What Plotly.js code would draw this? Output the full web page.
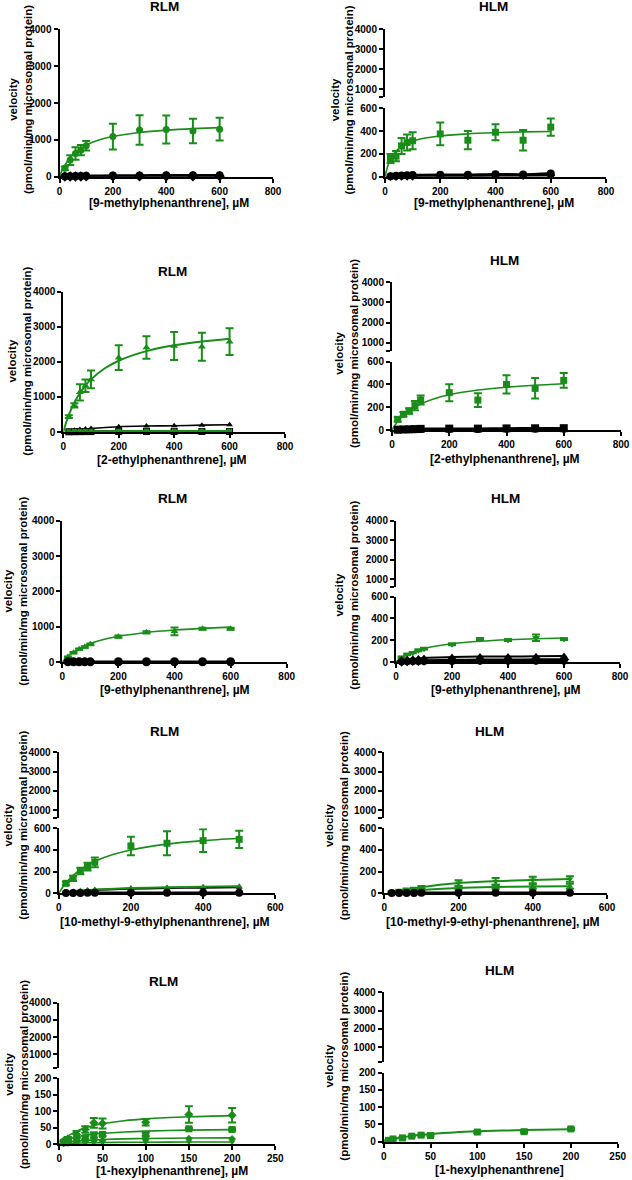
<!DOCTYPE html>
<html><head><meta charset="utf-8">
<script src="https://cdn.plot.ly/plotly-3.0.1.min.js"></script>
<style>html,body{margin:0;padding:0;background:#fff}#chart{width:632px;height:1180px}</style>
</head><body><div id="chart"></div>
<script>
// ---------- concentrations (x values) ----------
const concA = [20, 40, 60, 80, 100, 200, 300, 400, 500, 600];
const concB = [20, 40, 60, 80, 100, 200, 300, 400, 500];
const concC = [5, 10, 20, 30, 40, 50, 100, 150, 200];
const fitXA = [0, 10, 20, 40, 60, 80, 100, 150, 200, 300, 400, 500, 600];
const fitXB = [0, 10, 20, 40, 60, 80, 100, 150, 200, 300, 400, 500];
const fitXC = [0, 5, 10, 20, 30, 40, 50, 75, 100, 150, 200];

// ---------- tick labels ----------
const ticks800 = [0, 200, 400, 600, 800];
const ticks600 = [0, 200, 400, 600];
const ticks250 = [0, 50, 100, 150, 200, 250];
const ticksFull = [0, 1000, 2000, 3000, 4000];
const ticksLow600 = [0, 200, 400, 600];
const ticksLow200 = [0, 50, 100, 150, 200];

// ---------- text ----------
const panelTitles = ['RLM', 'HLM', 'RLM', 'HLM', 'RLM', 'HLM', 'RLM', 'HLM', 'RLM', 'HLM'];
const xTitles = ['[9-methylphenanthrene], µM', '[9-methylphenanthrene], µM',
  '[2-ethylphenanthrene], µM', '[2-ethylphenanthrene], µM',
  '[9-ethylphenanthrene], µM', '[9-ethylphenanthrene], µM',
  '[10-methyl-9-ethylphenanthrene], µM', '[10-methyl-9-ethyl-phenanthrene], µM',
  '[1-hexylphenanthrene], µM', '[1-hexylphenanthrene]'];
const yTitle = 'velocity<br>(pmol/min/mg microsomal protein)';

// ---------- Panel 1: RLM 9-methylphenanthrene ----------
const p1Green = [230, 450, 630, 720, 840, 1090, 1270, 1280, 1240, 1290];
const p1GreenErr = [50, 130, 170, 140, 130, 350, 400, 380, 330, 310];
const p1GreenFit = [0, 176, 316, 522, 667, 774, 857, 1000, 1091, 1200, 1263, 1304, 1333];
const p1BlackA = [10, 15, 20, 22, 25, 30, 35, 40, 40, 42];
const p1BlackB = [3, 5, 6, 7, 8, 10, 12, 12, 14, 15];

// ---------- Panel 2: HLM 9-methylphenanthrene ----------
const p2Green = [160, 180, 270, 300, 315, 375, 320, 390, 320, 435];
const p2GreenErr = [40, 45, 70, 70, 75, 100, 80, 70, 90, 75];
const p2GreenFit = [0, 93, 153, 224, 265, 292, 311, 341, 357, 376, 386, 393, 397];
const p2BlackA = [5, 8, 10, 12, 15, 18, 18, 22, 20, 28];
const p2BlackB = [2, 3, 4, 5, 5, 8, 8, 10, 10, 12];

// ---------- Panel 3: RLM 2-ethylphenanthrene ----------
const p3Green = [437, 760, 1130, 1320, 1500, 2120, 2410, 2450, 2430, 2575];
const p3GreenErr = [40, 60, 230, 180, 250, 350, 320, 400, 400, 380];
const p3GreenFit = [0, 263, 485, 840, 1112, 1326, 1500, 1817, 2032, 2305, 2471, 2582, 2662];
const p3BlackTri = [30, 50, 70, 85, 100, 150, 170, 180, 195, 205];
const p3GreenLow = [10, 15, 18, 20, 20, 25, 25, 25, 25, 25];
const p3BlackSq = [5, 8, 10, 12, 12, 15, 15, 15, 15, 15];

// ---------- Panel 4: HLM 2-ethylphenanthrene ----------
const p4Green = [94, 138, 167, 214, 263, 328, 263, 400, 366, 436];
const p4GreenErr = [20, 20, 25, 40, 40, 75, 60, 80, 90, 65];
const p4GreenFit = [0, 40, 74, 128, 169, 202, 229, 277, 310, 351, 376, 393, 406];
const p4BlackA = [3, 5, 6, 8, 10, 12, 12, 14, 15, 16];
const p4BlackB = [1, 2, 3, 3, 4, 5, 5, 6, 6, 6];

// ---------- Panel 5: RLM 9-ethylphenanthrene ----------
const p5Green = [140, 265, 360, 425, 500, 717, 840, 870, 943, 943];
const p5GreenErr = [15, 20, 20, 20, 25, 30, 30, 110, 30, 30];
const p5GreenFit = [0, 86, 160, 282, 379, 457, 522, 643, 727, 837, 906, 952, 986];
const p5Black = [5, 5, 5, 5, 5, 8, 8, 8, 8, 8];

// ---------- Panel 6: HLM 9-ethylphenanthrene ----------
const p6Green = [43, 70, 86, 107, 122, 162, 211, 202, 223, 211];
const p6GreenErr = [6, 6, 6, 8, 8, 8, 10, 8, 30, 8];
const p6GreenFit = [0, 22, 40, 69, 92, 110, 124, 150, 168, 190, 204, 213, 220];
const p6BlackTri = [12, 20, 28, 33, 37, 45, 50, 50, 52, 55];
const p6BlackDia = [5, 8, 10, 12, 13, 18, 20, 20, 22, 22];
const p6BlackCir = [2, 3, 4, 4, 5, 5, 6, 6, 6, 6];

// ---------- Panel 7: RLM 10-methyl-9-ethylphenanthrene ----------
const p7Green = [92, 138, 206, 246, 286, 437, 462, 486, 498];
const p7GreenErr = [15, 25, 30, 35, 45, 85, 110, 105, 80];
const p7GreenFit = [0, 52, 95, 165, 219, 261, 295, 358, 400, 454, 486, 508];
const p7GreenTri = [10, 18, 25, 30, 35, 48, 55, 60, 65];
const p7BlackTri = [8, 15, 20, 25, 30, 42, 48, 52, 55];
const p7BlackCir = [2, 3, 3, 4, 4, 5, 5, 5, 5];

// ---------- Panel 8: HLM 10-methyl-9-ethyl-phenanthrene ----------
const p8GreenA = [15, 25, 35, 42, 55, 95, 112, 122, 132];
const p8GreenAErr = [5, 8, 10, 10, 12, 25, 30, 30, 25];
const p8GreenB = [8, 12, 18, 22, 30, 50, 58, 62, 65];
const p8GreenBErr = [3, 5, 5, 6, 8, 15, 18, 20, 22];
const p8Black = [2, 3, 3, 3, 4, 4, 4, 5, 5];

// ---------- Panel 9: RLM 1-hexylphenanthrene ----------
const p9GreenA = [10, 17, 30, 45, 65, 63, 67, 90, 88];
const p9GreenAErr = [4, 5, 10, 10, 15, 15, 10, 25, 22];
const p9GreenAFit = [0, 14.3, 25, 40, 50, 57.1, 62.5, 71.4, 76.9, 83.3, 87];
const p9GreenB = [5, 10, 15, 20, 28, 30, 30, 47, 45];
const p9GreenBErr = [2, 3, 5, 5, 8, 5, 5, 3, 3];
const p9GreenBFit = [0, 8.3, 14.3, 22.2, 27.3, 30.8, 33.3, 37.5, 40, 42.9, 44.4];
const p9GreenC = [3, 5, 8, 10, 12, 12, 15, 17, 16];
const p9GreenCFit = [0, 3.7, 6.3, 9.8, 12, 13.5, 14.7, 16.5, 17.6, 18.9, 19.6];
const p9GreenD = [1, 2, 3, 4, 5, 5, 6, 7, 7];
const p9GreenDFit = [0, 1.3, 2.3, 3.6, 4.4, 4.9, 5.3, 6, 6.4, 6.9, 7.1];

// ---------- Panel 10: HLM 1-hexylphenanthrene ----------
const p10Green = [4, 8, 11, 16, 19, 18, 28, 29, 37];
const p10GreenErr = [1, 1, 2, 2, 2, 2, 3, 3, 3];
const p10GreenFit = [0, 4.1, 7.5, 12.9, 16.9, 20, 22.5, 27, 30, 33.8, 36];

// ================= drawing =================
const W = 632, H = 1180;
const GREEN = '#1a8c1a', BLACK = '#000000';
const FONT = 'Liberation Sans, Arial, Helvetica, sans-serif';

// geometry (pixels): x0/x1 = axis ends, yb = zero line, top = top of axis
const geo = [
  {x0: 59.5, x1: 273, xmax: 800, xt: ticks800, yb: 176.7, top: 29.3},
  {x0: 385, x1: 606, xmax: 800, xt: ticks800, yb: 176.7, lowTop: 108.3, upBot: 97.3, top: 29.3, lowMax: 600, lt: ticksLow600},
  {x0: 63.3, x1: 285, xmax: 800, xt: ticks800, yb: 432, top: 291.7},
  {x0: 392, x1: 621, xmax: 800, xt: ticks800, yb: 430, lowTop: 361.7, upBot: 350.7, top: 282.3, lowMax: 600, lt: ticksLow600},
  {x0: 62.3, x1: 286.7, xmax: 800, xt: ticks800, yb: 662, top: 520.7},
  {x0: 396, x1: 620, xmax: 800, xt: ticks800, yb: 662, lowTop: 596.7, upBot: 586.8, top: 520.7, lowMax: 600, lt: ticksLow600},
  {x0: 58.7, x1: 275.3, xmax: 600, xt: ticks600, yb: 893.3, lowTop: 828.3, upBot: 817.7, top: 752.3, lowMax: 600, lt: ticksLow600},
  {x0: 384.3, x1: 607, xmax: 600, xt: ticks600, yb: 893.3, lowTop: 828.3, upBot: 817.7, top: 752.3, lowMax: 600, lt: ticksLow600},
  {x0: 59.3, x1: 275.3, xmax: 250, xt: ticks250, yb: 1144.3, lowTop: 1078.3, upBot: 1068.1, top: 1002.7, lowMax: 200, lt: ticksLow200},
  {x0: 383.7, x1: 617.7, xmax: 250, xt: ticks250, yb: 1141.7, lowTop: 1072.7, upBot: 1061.6, top: 992.3, lowMax: 200, lt: ticksLow200}
];
const titlePos = [[164, 7], [494, 7], [172, 271.7], [504, 260.7], [172, 499], [505, 499], [164, 731.7], [489, 731.7], [163, 981.7], [499, 970]];
const xTitlePos = [[169, 203], [494, 203], [172, 460], [505, 459], [175, 690], [506, 690], [165, 921.7], [493, 921.7], [172, 1170.5], [499, 1170]];
const yTitlePos = [[20, 100], [341.5, 100], [20, 361.7], [346, 354], [16, 591.7], [347, 595.7], [16, 825.7], [336.5, 825.7], [16, 1075], [337, 1066.7]];

const px = v => v / W;
const py = v => 1 - v / H;
const tickFont = {family: FONT, size: 10, color: '#000', weight: 'bold'};
const axBase = {
  showline: true, linecolor: '#000', linewidth: 2, ticks: 'outside', ticklen: 4, tickwidth: 2,
  tickcolor: '#000', showgrid: false, zeroline: false, tickfont: tickFont, fixedrange: true
};

const layout = {
  width: W, height: H, autosize: false, showlegend: false,
  margin: {l: 0, r: 0, t: 0, b: 0, pad: 0},
  paper_bgcolor: '#fff', plot_bgcolor: 'rgba(0,0,0,0)',
  font: {family: FONT, color: '#000'},
  annotations: []
};

const traces = [];
let nextY = 11;
geo.forEach((g, i) => {
  const n = i + 1;
  const xk = 'xaxis' + n, yk = 'yaxis' + n;
  layout[xk] = Object.assign({}, axBase, {
    domain: [px(g.x0), px(g.x1)], range: [0, g.xmax], anchor: 'y' + n,
    tickmode: 'array', tickvals: g.xt, ticktext: g.xt.map(String)
  });
  if (g.lowMax) {
    layout[yk] = Object.assign({}, axBase, {
      domain: [py(g.yb), py(g.lowTop)], range: [0, g.lowMax], anchor: 'x' + n,
      tickmode: 'array', tickvals: g.lt, ticktext: g.lt.map(String)
    });
    const u = nextY++;
    const tv = [g.lowMax, 1000, 2000, 3000, 4000];
    layout['yaxis' + u] = Object.assign({}, axBase, {
      domain: [py(g.upBot), py(g.top)], range: [g.lowMax, 4000], anchor: 'x' + n,
      tickmode: 'array', tickvals: tv, ticktext: tv.map((v, k) => k === 0 ? '' : String(v))
    });
    // invisible trace so the upper segment of the broken axis is drawn
    traces.push({x: [0], y: [4000], xaxis: 'x' + n, yaxis: 'y' + u, mode: 'markers',
      marker: {opacity: 0}, hoverinfo: 'skip'});
  } else {
    layout[yk] = Object.assign({}, axBase, {
      domain: [py(g.yb), py(g.top)], range: [0, 4000], anchor: 'x' + n,
      tickmode: 'array', tickvals: ticksFull, ticktext: ticksFull.map(String)
    });
  }
  layout.annotations.push({text: panelTitles[i], x: px(titlePos[i][0]), y: py(titlePos[i][1]),
    xref: 'paper', yref: 'paper', xanchor: 'center', yanchor: 'middle', showarrow: false,
    font: {family: FONT, size: 13.5, color: '#000', weight: 'bold'}});
  layout.annotations.push({text: xTitles[i], x: px(xTitlePos[i][0]), y: py(xTitlePos[i][1]),
    xref: 'paper', yref: 'paper', xanchor: 'center', yanchor: 'middle', showarrow: false,
    font: {family: FONT, size: 12, color: '#000', weight: 'bold'}});
  layout.annotations.push({text: yTitle, x: px(yTitlePos[i][0]), y: py(yTitlePos[i][1]),
    xref: 'paper', yref: 'paper', xanchor: 'center', yanchor: 'middle', showarrow: false,
    textangle: -90, align: 'center',
    font: {family: FONT, size: 11.5, color: '#000', weight: 'bold'}});
});

function pts(n, xs, ys, color, symbol, size, err) {
  const t = {x: xs, y: ys, xaxis: 'x' + n, yaxis: 'y' + n, mode: 'markers', cliponaxis: false,
    marker: {color: color, symbol: symbol, size: size, line: {width: 0}}, hoverinfo: 'skip'};
  if (err) t.error_y = {type: 'data', array: err, visible: true, color: color, thickness: 2, width: 4};
  traces.push(t);
}
function curve(n, xs, ys, color, width) {
  traces.push({x: xs, y: ys, xaxis: 'x' + n, yaxis: 'y' + n, mode: 'lines', cliponaxis: false,
    line: {color: color, width: width || 1.6, shape: 'spline', smoothing: 0.8}, hoverinfo: 'skip'});
}

// Panel 1
curve(1, fitXA, p1GreenFit, GREEN);
pts(1, concA, p1Green, GREEN, 'circle', 7, p1GreenErr);
curve(1, concA, p1BlackA, BLACK, 2.5); pts(1, concA, p1BlackA, BLACK, 'circle', 8);
curve(1, concA, p1BlackB, BLACK, 2.5); pts(1, concA, p1BlackB, BLACK, 'diamond', 8);
// Panel 2
curve(2, fitXA, p2GreenFit, GREEN);
pts(2, concA, p2Green, GREEN, 'square', 7, p2GreenErr);
curve(2, concA, p2BlackA, BLACK, 2.5); pts(2, concA, p2BlackA, BLACK, 'circle', 8);
curve(2, concA, p2BlackB, BLACK, 2.5); pts(2, concA, p2BlackB, BLACK, 'diamond', 7);
// Panel 3
curve(3, fitXA, p3GreenFit, GREEN, 2);
pts(3, concA, p3Green, GREEN, 'triangle-up', 7, p3GreenErr);
curve(3, concA, p3BlackTri, BLACK, 1.6); pts(3, concA, p3BlackTri, BLACK, 'triangle-up', 6);
curve(3, concA, p3BlackSq, BLACK, 2.5); pts(3, concA, p3BlackSq, BLACK, 'square', 7);
curve(3, concA, p3GreenLow, GREEN, 2); pts(3, concA, p3GreenLow, GREEN, 'square', 5);
// Panel 4
curve(4, fitXA, p4GreenFit, GREEN);
pts(4, concA, p4Green, GREEN, 'square', 7, p4GreenErr);
curve(4, concA, p4BlackA, BLACK, 2.5); pts(4, concA, p4BlackA, BLACK, 'square', 8);
curve(4, concA, p4BlackB, BLACK, 2.5); pts(4, concA, p4BlackB, BLACK, 'circle', 7);
// Panel 5
curve(5, fitXA, p5GreenFit, GREEN);
pts(5, concA, p5Green, GREEN, 'triangle-up', 7, p5GreenErr);
curve(5, concA, p5Black, BLACK, 2.5); pts(5, concA, p5Black, BLACK, 'circle', 9);
// Panel 6
curve(6, fitXA, p6GreenFit, GREEN);
pts(6, concA, p6Green, GREEN, 'triangle-down', 7, p6GreenErr);
curve(6, concA, p6BlackTri, BLACK, 2); pts(6, concA, p6BlackTri, BLACK, 'triangle-up', 7);
curve(6, concA, p6BlackDia, BLACK, 2.5); pts(6, concA, p6BlackDia, BLACK, 'diamond', 8);
curve(6, concA, p6BlackCir, BLACK, 2.5); pts(6, concA, p6BlackCir, BLACK, 'circle', 7);
// Panel 7
curve(7, fitXB, p7GreenFit, GREEN);
pts(7, concB, p7Green, GREEN, 'square', 7, p7GreenErr);
curve(7, concB, p7BlackTri, BLACK, 2); pts(7, concB, p7BlackTri, BLACK, 'triangle-up', 6);
curve(7, concB, p7GreenTri, GREEN, 2); pts(7, concB, p7GreenTri, GREEN, 'triangle-up', 6);
curve(7, concB, p7BlackCir, BLACK, 2.5); pts(7, concB, p7BlackCir, BLACK, 'circle', 8);
// Panel 8
curve(8, concB, p8GreenA, GREEN, 2); pts(8, concB, p8GreenA, GREEN, 'triangle-down', 6, p8GreenAErr);
curve(8, concB, p8GreenB, GREEN, 2); pts(8, concB, p8GreenB, GREEN, 'triangle-up', 6, p8GreenBErr);
curve(8, concB, p8Black, BLACK, 2.5); pts(8, concB, p8Black, BLACK, 'circle', 8);
// Panel 9
curve(9, fitXC, p9GreenAFit, GREEN); pts(9, concC, p9GreenA, GREEN, 'diamond', 7, p9GreenAErr);
curve(9, fitXC, p9GreenBFit, GREEN); pts(9, concC, p9GreenB, GREEN, 'square', 7, p9GreenBErr);
curve(9, fitXC, p9GreenCFit, GREEN); pts(9, concC, p9GreenC, GREEN, 'diamond', 6);
curve(9, fitXC, p9GreenDFit, GREEN); pts(9, concC, p9GreenD, GREEN, 'triangle-down', 6);
// Panel 10
curve(10, fitXC, p10GreenFit, GREEN, 2); pts(10, concC, p10Green, GREEN, 'square', 7, p10GreenErr);

Plotly.newPlot('chart', traces, layout, {staticPlot: true, displayModeBar: false});
</script>
</body></html>
